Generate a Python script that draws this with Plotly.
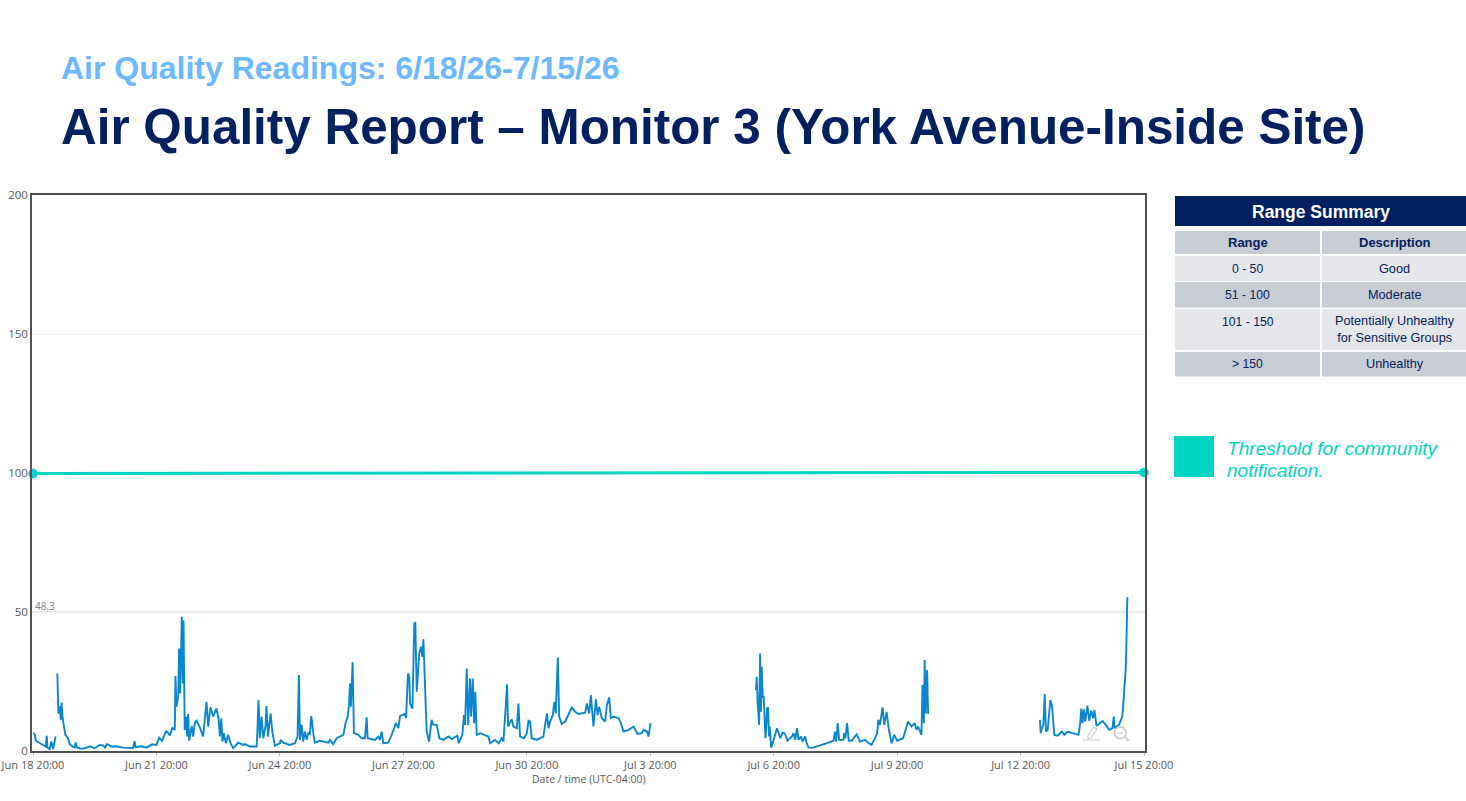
import pandas as pd
import plotly.graph_objects as go

START = pd.Timestamp("2026-06-18 20:00")
END = pd.Timestamp("2026-07-15 20:00")

# Hours since the start of the report and the reading at that hour, one pair per unbroken run.
hours_a = [0, 1.0, 1.6, 3.5, 5.8, 7.4, 8.0, 8.4, 9.7, 10.7, 11.7, 13.2]
values_a = [6.4, 6.1, 3.7, 3.1, 2.2, 1.6, 5.5, 1.3, 0.7, 3.4, 0.7, 5.2]

hours_b = [14.2, 14.8, 15.6, 16.2, 16.7, 17.1, 17.9, 18.9, 20.4, 21.4, 23.0, 24.3, 24.9, 25.7, 28.2, 31.1,
           33.1, 36.0, 38.9, 40.9, 42.0, 43.2, 45.7, 48.7, 52.5, 58.4, 59.2, 59.9, 63.2, 66.2, 69.5, 72.0,
           73.6, 75.3, 77.8, 79.8, 81.3, 82.7, 83.1, 83.7, 84.7, 85.2, 85.8, 86.8, 87.4, 87.8, 88.5, 89.5,
           89.9, 90.5, 91.1, 91.9, 92.6, 93.4, 94.4, 95.4, 97.3, 99.2, 101.2, 102.2, 103.5, 105.1, 107.0,
           108.2, 109.0, 109.8, 110.5, 111.3, 112.5, 113.8, 115.2, 116.8, 119.7, 122.6, 123.6, 126.5, 130.4,
           130.8, 131.5, 132.3, 133.3, 134.3, 135.6, 136.2, 137.0, 138.6, 139.7, 141.1, 144.0, 144.4, 146.0,
           149.8, 152.8, 154.3, 155.1, 155.7, 156.7, 157.6, 158.6, 159.6, 160.5, 161.5, 162.3, 163.5, 164.4,
           167.4, 172.2, 173.2, 175.1, 177.1, 181.0, 182.3, 183.5, 184.3, 184.9, 185.4, 186.4, 187.2, 189.7,
           191.7, 193.6, 194.6, 195.2, 199.5, 201.4, 202.4, 203.4, 204.3, 207.2, 209.2, 211.7, 213.1, 214.1,
           217.0, 217.6, 218.7, 219.5, 219.9, 221.3, 222.4, 223.0, 223.8, 225.3, 226.3, 227.1, 227.7, 228.6,
           229.6, 231.0, 232.5, 233.5, 235.5, 237.0, 239.4, 242.3, 244.2, 247.5, 248.3, 250.4, 251.4, 252.0,
           253.0, 253.8, 254.9, 255.5, 256.5, 257.3, 258.0, 258.8, 260.8, 265.6, 266.6, 269.5, 271.5, 273.4,
           274.4, 275.9, 276.5, 277.1, 279.2, 280.2, 282.2, 283.1, 284.1, 286.4, 288.0, 289.0, 289.9, 290.9,
           293.8, 297.7, 299.7, 300.7, 301.6, 303.2, 304.0, 304.9, 306.1, 306.9, 308.4, 310.4, 312.3, 314.3,
           316.2, 318.2, 322.1, 323.0, 324.4, 325.4, 326.9, 328.3, 329.3, 330.2, 331.8, 333.7, 334.7, 336.1,
           337.0, 338.6, 341.5, 342.9, 344.4, 347.4, 350.3, 352.6, 355.1, 356.1, 358.1, 359.0, 360.2]
values_b = [27.9, 13.5, 16.2, 11.2, 17.4, 12.9, 9.4, 5.8, 4.6, 2.5, 1.6, 1.3, 3.1, 1.3, 0.8, 1.1,
            1.7, 1.0, 2.2, 2.0, 1.2, 2.5, 1.6, 1.7, 1.2, 1.1, 3.5, 1.4, 1.7, 1.2, 2.4, 2.2,
            4.8, 3.7, 7.3, 5.6, 8.3, 7.6, 27.0, 15.9, 19.5, 36.9, 20.7, 48.3, 24.3, 46.9, 7.6, 12.4,
            5.2, 13.3, 3.7, 7.0, 9.0, 5.2, 10.2, 10.9, 8.5, 5.2, 17.7, 8.8, 15.7, 12.4, 15.3,
            11.8, 5.2, 11.8, 3.4, 6.4, 2.8, 5.8, 2.8, 1.0, 3.0, 2.2, 2.5, 1.6, 1.6,
            5.8, 18.3, 4.6, 12.4, 4.6, 9.0, 16.2, 5.2, 13.5, 6.4, 1.9, 2.8, 4.0, 3.0,
            2.2, 2.8, 5.2, 27.3, 4.0, 9.4, 3.4, 7.0, 4.0, 6.4, 6.1, 12.6, 6.4, 3.0,
            3.7, 3.0, 4.0, 2.4, 4.6, 5.8, 10.0, 12.4, 16.5, 24.3, 15.9, 31.9, 6.4, 5.8,
            4.6, 4.6, 12.1, 4.6, 4.0, 5.2, 4.0, 7.0, 2.8, 3.0, 5.8, 10.0, 8.2, 12.6,
            13.3, 11.8, 27.9, 26.7, 17.1, 15.3, 45.9, 46.3, 21.3, 35.1, 37.5, 33.9, 40.2, 21.9,
            7.0, 3.4, 11.2, 9.4, 9.4, 4.6, 4.0, 5.2, 4.3, 5.5, 2.8, 5.8, 12.9, 9.4,
            29.7, 9.4, 26.1, 12.4, 26.1, 10.0, 21.3, 5.8, 6.4, 5.2, 2.8, 4.0, 2.8, 4.6,
            3.4, 17.7, 24.0, 8.8, 11.4, 8.8, 8.2, 17.1, 5.2, 4.6, 6.4, 10.9, 10.6, 4.6,
            4.0, 5.2, 13.5, 8.2, 10.6, 12.9, 17.7, 13.5, 33.7, 12.4, 9.7, 10.6, 12.9, 15.7,
            14.1, 13.3, 13.8, 17.1, 13.5, 20.1, 8.8, 18.6, 12.9, 15.9, 11.8, 10.6, 16.5, 19.3,
            11.8, 12.4, 11.8, 10.0, 7.0, 7.6, 8.8, 6.1, 6.4, 7.6, 7.0, 5.2, 10.0]

hours_c = [421.7, 422.1, 422.7, 423.5, 424.1, 424.6, 425.0, 425.6, 426.2, 426.8, 427.2, 427.7, 428.1, 428.7,
           429.3, 429.7, 430.5, 432.0, 433.9, 435.9, 437.2, 438.4, 440.1, 442.7, 443.6, 444.6, 445.6, 446.5,
           447.9, 448.9, 450.4, 451.0, 452.3, 455.2, 459.1, 464.0, 466.9, 467.8, 468.4, 469.4, 470.2, 472.7,
           473.1, 473.8, 474.8, 475.8, 477.5, 480.4, 482.4, 485.3, 487.2, 489.1, 491.1, 492.4, 493.0, 494.0,
           495.5, 496.5, 497.9, 499.2, 500.8, 502.3, 504.1, 507.5, 510.4, 512.4, 514.3, 515.3, 516.3, 518.2,
           518.8, 519.6, 520.1, 520.7, 521.5, 522.1]
values_c = [21.9, 26.7, 17.1, 9.4, 35.1, 14.1, 30.3, 19.5, 19.5, 12.4, 4.6, 8.8, 15.3, 15.7,
            5.2, 8.8, 1.2, 4.0, 8.2, 4.6, 6.6, 6.4, 3.7, 5.2, 6.4, 4.0, 8.2, 4.0,
            5.2, 3.4, 5.2, 3.4, 1.2, 1.2, 1.9, 3.0, 3.7, 7.0, 3.4, 10.0, 4.0, 4.0,
            6.4, 4.6, 10.0, 3.7, 3.7, 6.0, 3.4, 4.0, 3.0, 2.2, 4.6, 6.4, 11.2, 9.4,
            15.7, 9.4, 14.1, 7.6, 2.8, 5.8, 3.7, 4.6, 10.6, 8.8, 10.0, 7.6, 8.8, 5.8,
            23.7, 10.0, 32.7, 13.5, 29.1, 13.3]

hours_d = [587.3, 587.7, 588.5, 589.3, 590.1, 590.8, 591.8, 593.4, 594.3, 595.7, 597.6, 600.1, 601.5, 603.4,
           606.3, 609.8, 610.8, 611.4, 612.1, 612.9, 613.7, 615.0, 616.0, 617.2, 618.3, 619.1, 620.3, 623.8,
           625.7, 627.6, 629.6, 630.4, 630.9, 633.4, 635.4, 636.4, 637.3, 637.7, 638.3]
values_d = [11.2, 6.4, 8.2, 9.4, 20.5, 7.0, 7.6, 18.3, 16.5, 5.8, 5.5, 7.0, 5.8, 7.0,
            6.4, 5.8, 10.0, 15.3, 10.0, 15.0, 10.6, 16.3, 10.9, 14.5, 11.8, 14.7, 9.0, 10.8,
            9.4, 7.6, 8.2, 12.4, 8.2, 9.4, 12.6, 20.7, 29.1, 37.5, 55.3]

threshold_values = [99.8, 100.2]
peak_label = "48.3"

tick_dates = pd.date_range(START, END, freq="3D")
tick_labels = ["Jun 18 20:00", "Jun 21 20:00", "Jun 24 20:00", "Jun 27 20:00", "Jun 30 20:00",
               "Jul 3 20:00", "Jul 6 20:00", "Jul 9 20:00", "Jul 12 20:00", "Jul 15 20:00"]

table_header = ["Range", "Description"]
table_ranges = ["0 - 50", "51 - 100", "101 - 150", "> 150"]
table_descriptions = ["Good", "Moderate", "Potentially Unhealthy<br>for Sensitive Groups", "Unhealthy"]

NAVY = "#002060"
TEAL = "#00D4C2"
LINE = "#0A86CE"
GREY_TEXT = "#595959"
SANS = "Liberation Sans"
CHART_FONT = "Open Sans"

# Plot rectangle on the page, in pixels.
LEFT, RIGHT, TOP, BOTTOM = 32, 1145, 195, 751
W, H = 1466, 801


def px(x):
    return (x - LEFT) / (RIGHT - LEFT)


def py(y):
    return (BOTTOM - y) / (BOTTOM - TOP)


def to_time(hours):
    return list(START + pd.to_timedelta(hours, unit="h"))


def page_rect(x0, y0, x1, y1, color):
    return dict(type="rect", xref="paper", yref="paper", x0=px(x0), x1=px(x1), y0=py(y0), y1=py(y1),
                fillcolor=color, line=dict(width=0), layer="above")


def page_line(x0, y0, x1, y1, color, width):
    return dict(type="line", xref="paper", yref="paper", x0=px(x0), x1=px(x1), y0=py(y0), y1=py(y1),
                line=dict(color=color, width=width), layer="above")


def page_text(x, y, text, size, color, anchor="left", bold=False, italic=False, family=SANS):
    if bold:
        text = f"<b>{text}</b>"
    if italic:
        text = f"<i>{text}</i>"
    return dict(xref="paper", yref="paper", x=px(x), y=py(y), text=text, showarrow=False, xanchor=anchor,
                yanchor="middle", align=anchor,
                font=dict(family=family, size=size, color=color), borderpad=0, borderwidth=0)


x_series, y_series = [], []
for hrs, vals in [(hours_a, values_a), (hours_b, values_b), (hours_c, values_c), (hours_d, values_d)]:
    x_series += to_time(hrs) + [None]
    y_series += vals + [None]

fig = go.Figure()
fig.add_trace(go.Scatter(x=x_series, y=y_series, mode="lines", line=dict(color=LINE, width=1.9), connectgaps=False))
fig.add_trace(go.Scatter(x=[START, END], y=threshold_values, mode="lines+markers",
                         line=dict(color=TEAL, width=3), marker=dict(color=TEAL, size=9.5), cliponaxis=False))

shapes = [
    dict(type="line", xref="paper", yref="y", x0=0, x1=1, y0=50, y1=50, line=dict(color="#E6E6E6", width=2), layer="below"),
]

# Range summary table.
shapes.append(page_rect(1175, 196, 1466, 226, NAVY))
columns = [(1175, 1320), (1322, 1466)]
rows = [(231, 254), (256, 281), (282, 307.5), (309, 350), (352, 376.5)]
row_colors = ["#C8CCD3", "#E5E7EB", "#C8CCD3", "#E5E7EB", "#C8CCD3"]
for (y0, y1), color in zip(rows, row_colors):
    for x0, x1 in columns:
        shapes.append(page_rect(x0, y0, x1, y1, color))

# Threshold key.
shapes.append(page_rect(1174, 436, 1214, 477, TEAL))

# Chart tool glyphs in the lower right of the plot.
ICON = "#CFCFCF"
shapes += [
    page_line(1083, 740, 1100, 740, ICON, 1.2),
    page_line(1093, 727, 1097, 729, ICON, 1.2),
    page_line(1093, 727, 1088, 736, ICON, 1.2),
    page_line(1097, 729, 1091, 738, ICON, 1.2),
    page_line(1088, 736, 1088, 739, ICON, 1.2),
    page_line(1091, 738, 1088, 739, ICON, 1.2),
    dict(type="circle", xref="paper", yref="paper", x0=px(1114.5), x1=px(1126), y0=py(727), y1=py(738.5),
         line=dict(color=ICON, width=1.8), layer="above"),
    page_line(1125, 737, 1129, 741, ICON, 2.2),
    page_line(1117.5, 733, 1123, 733, ICON, 1.5),
]

annotations = [
    page_text(61, 68, "Air Quality Readings: 6/18/26-7/15/26", 32, "#6DB8FF", bold=True),
    page_text(61, 126, "Air Quality Report – Monitor 3 (York Avenue-Inside Site)", 49.4, NAVY, bold=True),
    page_text(34.5, 606, peak_label, 10, "#808080", family=CHART_FONT),
    page_text(1320.5, 211.5, "Range Summary", 17.5, "#FFFFFF", "center", bold=True),
    page_text(1247.5, 242, table_header[0], 13, NAVY, "center", bold=True),
    page_text(1394.5, 242, table_header[1], 13, NAVY, "center", bold=True),
    page_text(1227, 448, "Threshold for community", 19.1, TEAL, italic=True),
    page_text(1227, 470.5, "notification.", 19.1, TEAL, italic=True),
    page_text(589, 779, "Date / time (UTC-04:00)", 10.5, GREY_TEXT, "center", family=CHART_FONT),
]
range_y = [268.5, 294.5, 321.5, 364]
desc_y = [268.5, 294.5, 329.5, 364]
for rng, desc, ry, dy in zip(table_ranges, table_descriptions, range_y, desc_y):
    annotations.append(page_text(1247.5, ry, rng, 12.2, NAVY, "center"))
    annotations.append(page_text(1394.5, dy, desc, 12.7, NAVY, "center"))

fig.update_layout(
    width=W, height=H, autosize=False, showlegend=False,
    paper_bgcolor="white", plot_bgcolor="white",
    margin=dict(l=LEFT, r=W - RIGHT, t=TOP, b=H - BOTTOM, pad=0, autoexpand=False),
    shapes=shapes, annotations=annotations,
    xaxis=dict(
        automargin=False,
        range=[START - pd.Timedelta(minutes=35), END + pd.Timedelta(minutes=35)],
        tickmode="array", tickvals=list(tick_dates), ticktext=tick_labels,
        tickfont=dict(family=CHART_FONT, size=11, color=GREY_TEXT),
        showgrid=False, zeroline=False, showline=True, linecolor="#505050", linewidth=1.5, mirror=True,
        ticks="outside", ticklen=3, tickcolor="#BBBBBB", tickwidth=1, tickangle=0,
    ),
    yaxis=dict(
        automargin=False,
        range=[0, 200], tickmode="array", tickvals=[0, 50, 100, 150, 200],
        tickfont=dict(family=CHART_FONT, size=11.5, color=GREY_TEXT),
        showgrid=True, gridcolor="#EFEFEF", gridwidth=1, zeroline=False,
        showline=True, linecolor="#505050", linewidth=1.5, mirror=True, ticks="",
    ),
)

fig.write_html("out.html", config=dict(displayModeBar=False))
